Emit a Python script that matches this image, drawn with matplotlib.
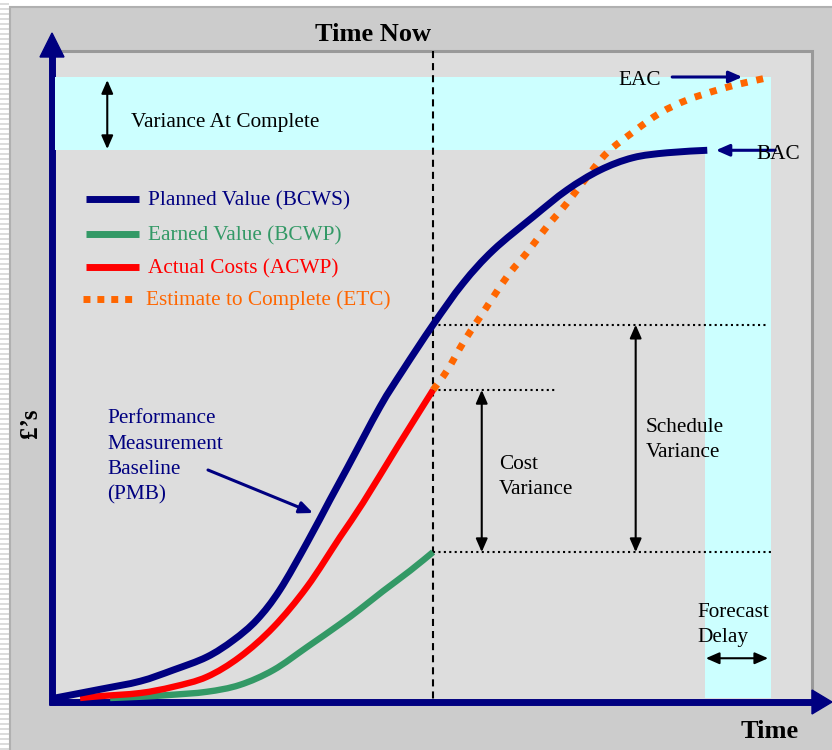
import matplotlib.pyplot as plt
from matplotlib.patches import Rectangle, Polygon, PathPatch
from matplotlib.path import Path
from matplotlib.transforms import blended_transform_factory
import numpy as np

# time runs 0-100, cost runs 0-100 with EAC = 100
pv_time = [0, 6.3, 11.9, 16.5, 21.2, 24.9, 28.2, 31.4, 35.2, 38.4, 40.8, 45.4,
           48.6, 52.8, 57.0, 61.2, 66.8, 71.5, 76.1, 80.7, 85.5, 91.1]
pv_cost = [0, 1.4, 2.7, 4.5, 6.6, 9.3, 12.6, 17.4, 25.0, 31.9, 37.0, 46.9,
           52.8, 60.1, 66.8, 72.1, 77.5, 81.8, 85.0, 87.0, 87.8, 88.2]

ac_time = [3.5, 6.3, 11.9, 16.5, 21.2, 25.8, 30.5, 35.2, 39.8, 43.0, 47.8, 52.8]
ac_cost = [0, 0.3, 0.8, 1.8, 3.4, 6.6, 11.4, 17.9, 25.9, 31.4, 40.4, 49.6]

ev_time = [7.7, 11.9, 16.1, 21.2, 25.8, 30.5, 35.2, 39.8, 42.6, 45.8, 49.6, 52.8]
ev_cost = [0, 0.2, 0.5, 1.0, 2.1, 4.5, 8.2, 11.9, 14.3, 17.2, 20.5, 23.5]

etc_time = [52.8, 54.8, 57.0, 59.4, 63.1, 65.9, 68.7, 71.5, 74.3, 77.1, 80.7,
            84.5, 88.3, 92.5, 95.7, 100]
etc_cost = [49.6, 52.8, 57.2, 61.4, 67.8, 71.7, 75.9, 79.7, 83.9, 87.8, 91.1,
            94.2, 96.3, 97.9, 98.9, 100]

time_now = 52.8

legend_labels = ["Planned Value (BCWS)", "Earned Value (BCWP)",
                 "Actual Costs (ACWP)", "Estimate to Complete (ETC)"]

NAVY = "#000080"
GREEN = "#339966"
RED = "#ff0000"
ORANGE = "#ff6600"
CYAN = "#ccffff"
SERIF = ["Liberation Serif", "DejaVu Serif"]
FS = 15.3

bac_time, bac = pv_time[-1], pv_cost[-1]
eac_time, eac = etc_time[-1], etc_cost[-1]
pv_now = np.interp(time_now, pv_time, pv_cost)
ac_now = np.interp(time_now, ac_time, ac_cost)
ev_now = np.interp(time_now, ev_time, ev_cost)


def smooth_path(xs, ys):
    # Catmull-Rom through the points, written as cubic Bezier segments
    pts = np.column_stack([xs, ys]).astype(float)
    p = np.vstack([pts[0], pts, pts[-1]])
    verts, codes = [pts[0]], [Path.MOVETO]
    for i in range(1, len(p) - 2):
        p0, p1, p2, p3 = p[i - 1], p[i], p[i + 1], p[i + 2]
        verts += [p1 + (p2 - p0) / 6, p2 - (p3 - p1) / 6, p2]
        codes += [Path.CURVE4] * 3
    return Path(verts, codes)


def curve(ax, xs, ys, color, lw, **kw):
    ax.add_patch(PathPatch(smooth_path(xs, ys), fill=False, edgecolor=color,
                           lw=lw, capstyle="butt", joinstyle="round",
                           clip_on=False, zorder=3, **kw))


fig = plt.figure(figsize=(8.32, 7.5), dpi=100)

# background layer in pixel units
bg = fig.add_axes([0, 0, 1, 1])
bg.set_xlim(0, 832)
bg.set_ylim(750, 0)
bg.axis("off")

stripes = np.tile(np.array([[1.0], [1.0], [1.0], [0.86], [0.86]]), (150, 9))
bg.imshow(stripes, cmap="gray", vmin=0, vmax=1, extent=(0, 9, 750, 0),
          aspect="auto", interpolation="nearest")
bg.add_patch(Rectangle((9.5, 6.5), 830, 750, facecolor="#cccccc",
                       edgecolor="#b0b0b0", lw=1.5))
bg.add_patch(Rectangle((52, 50.5), 760, 652, facecolor="#dddddd",
                       edgecolor="#999999", lw=2.2))

# axis arrows
bg.plot([52, 52], [705, 55], color=NAVY, lw=5, solid_capstyle="butt")
bg.add_patch(Polygon([(40, 57), (64, 57), (52, 33)], color=NAVY))
bg.plot([48.5, 814], [702, 702], color=NAVY, lw=5, solid_capstyle="butt")
bg.add_patch(Polygon([(812, 690), (812, 714), (832, 702)], color=NAVY))

# hand-drawn legend
legend_colors = [NAVY, GREEN, RED, ORANGE]
legend_y = [199, 234, 267, 299]
for color, y in zip(legend_colors, legend_y):
    if color == ORANGE:
        bg.plot([83, 133], [y, y], color=color, lw=5, ls=(0, (1, 1)),
                dash_capstyle="butt")
    else:
        bg.plot([86, 139], [y, y], color=color, lw=5, solid_capstyle="butt")

# data layer
ax = fig.add_axes([55 / 832, 52 / 750, 716 / 832, 621 / 750])
ax.set_xlim(0, 100)
ax.set_ylim(0, 100)
ax.axis("off")
px = bg.transData


def label(x, y, s, **kw):
    kw.setdefault("fontsize", FS)
    kw.setdefault("va", "center")
    ax.text(x, y, s, transform=px, family=SERIF, clip_on=False, zorder=5, **kw)


ax.fill_between([0, eac_time], bac, eac, color=CYAN, lw=0, zorder=1)
ax.fill_between([bac_time - 0.3, eac_time], 0, bac, color=CYAN, lw=0, zorder=1)

# time-now marker spans the full inner panel
mixed = blended_transform_factory(ax.transData, px)
ax.plot([time_now, time_now], [51, 700], transform=mixed, color="black",
        lw=1.5, ls=(0, (3.4, 2.4)), clip_on=False, zorder=2)

dot = dict(color="black", lw=1.5, ls=(0, (1, 1.6)), dash_capstyle="butt", zorder=2)
ax.plot([time_now, 99.3], [pv_now, pv_now], **dot)
ax.plot([time_now, 70.1], [ac_now, ac_now], **dot)
ax.plot([time_now, 100.3], [ev_now, ev_now], clip_on=False, **dot)

curve(ax, etc_time, etc_cost, ORANGE, 5, linestyle=(0, (1, 1.3)))
curve(ax, ev_time, ev_cost, GREEN, 4.6)
curve(ax, ac_time, ac_cost, RED, 4.6)
curve(ax, pv_time, pv_cost, NAVY, 5)

black_arrow = dict(arrowstyle="<|-|>,head_length=0.8,head_width=0.35",
                   color="black", lw=1.5, shrinkA=0, shrinkB=0, mutation_scale=10)
ax.annotate("", xy=(7.3, eac - 0.5), xytext=(7.3, bac + 0.2),
            arrowprops=black_arrow, zorder=4)
ax.annotate("", xy=(59.6, ac_now), xytext=(59.6, ev_now),
            arrowprops=black_arrow, zorder=4)
ax.annotate("", xy=(81.1, pv_now), xytext=(81.1, ev_now),
            arrowprops=black_arrow, zorder=4)
ax.annotate("", xy=(bac_time - 0.2, 6.4), xytext=(eac_time - 0.4, 6.4),
            arrowprops=black_arrow, zorder=4)

navy_arrow = dict(arrowstyle="-|>,head_length=0.8,head_width=0.35",
                  color=NAVY, lw=2.2, shrinkA=0, shrinkB=0, mutation_scale=10)
ax.annotate("", xy=(eac_time - 4.0, eac), xytext=(eac_time - 13.8, eac),
            arrowprops=navy_arrow, zorder=4, annotation_clip=False)
ax.annotate("", xy=(bac_time + 1.2, bac), xytext=(bac_time + 9.5, bac),
            arrowprops=navy_arrow, zorder=4, annotation_clip=False)
ax.annotate("", xy=(313, 513), xytext=(208, 470), xycoords=px, textcoords=px,
            arrowprops=navy_arrow, zorder=4)

# text
label(373, 41, "Time Now", weight="bold", fontsize=19, ha="center", va="baseline")
label(770, 738, "Time", weight="bold", fontsize=19, ha="center", va="baseline")
label(30, 423, "£’s", weight="bold", fontsize=18, ha="center", rotation=90)
for s, color, y in zip(legend_labels, legend_colors, legend_y):
    label(146 if color == ORANGE else 148, y + 6, s, color=color, va="baseline")
label(131, 127, "Variance At Complete", va="baseline")
label(107, 457, "Performance\nMeasurement\nBaseline\n(PMB)", color=NAVY,
      linespacing=1.45)
label(499, 477, "Cost\nVariance", linespacing=1.45)
label(646, 440, "Schedule\nVariance", linespacing=1.45)
label(697, 625, "Forecast\nDelay", linespacing=1.45)
label(661, 85, "EAC", ha="right", va="baseline")
label(756, 159, "BAC", ha="left", va="baseline")

fig.savefig("out.png", dpi=100)
